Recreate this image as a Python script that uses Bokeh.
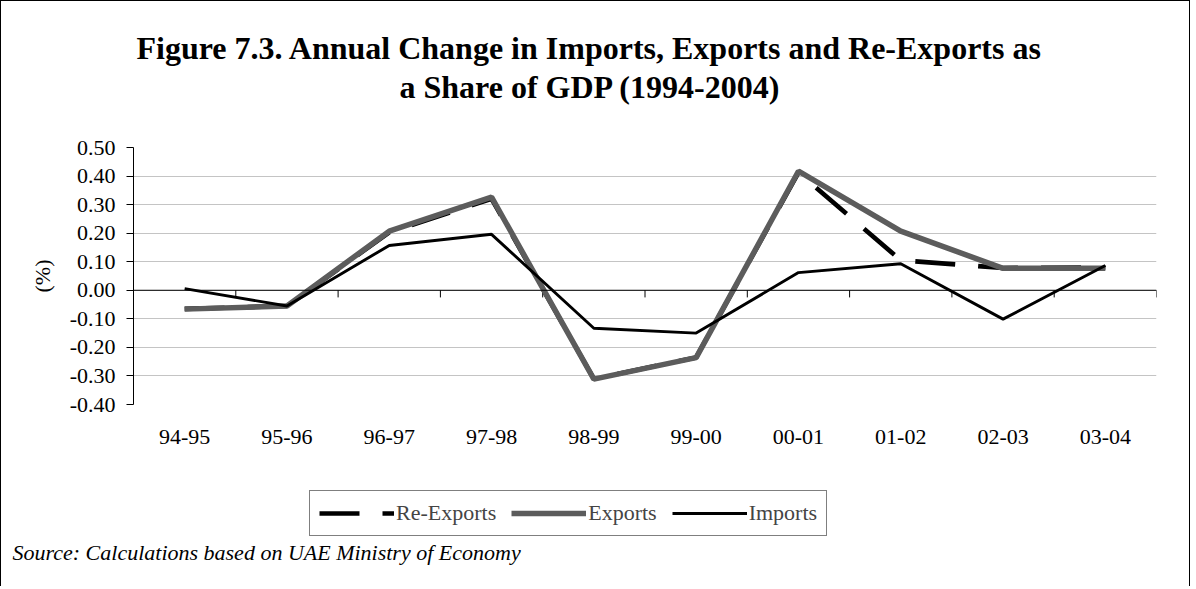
from bokeh.plotting import figure
from bokeh.layouts import column
from bokeh.models import (FactorRange, Range1d, FixedTicker, NumeralTickFormatter, Span,
                          Legend, LegendItem, Title)
from bokeh.embed import file_html
from bokeh.resources import INLINE

# ---------------- data ----------------
categories = ["94-95", "95-96", "96-97", "97-98", "98-99", "99-00", "00-01", "01-02", "02-03", "03-04"]
re_exports = [-0.065, -0.055, 0.203, 0.320, -0.310, -0.235, 0.412, 0.105, 0.078, 0.080]
exports = [-0.066, -0.055, 0.207, 0.326, -0.311, -0.236, 0.417, 0.207, 0.077, 0.077]
imports = [0.006, -0.055, 0.157, 0.196, -0.133, -0.150, 0.062, 0.093, -0.101, 0.087]
y_ticks = [-0.4, -0.3, -0.2, -0.1, 0.0, 0.1, 0.2, 0.3, 0.4, 0.5]
series_names = ["Re-Exports", "Exports", "Imports"]

title_lines = ["Figure 7.3. Annual Change in Imports, Exports and Re-Exports as",
               "a Share of GDP (1994-2004)"]
source_text = "Source: Calculations based on UAE Ministry of Economy"

SERIF = "Liberation Serif"
W, H_MAIN, H_FOOT = 1190, 470, 116
LEFT, RIGHT = 132, 35

# ---------------- main chart ----------------
p = figure(width=W, height=H_MAIN, output_backend="svg", toolbar_location=None,
           x_range=FactorRange(*categories), y_range=Range1d(-0.4, 0.5),
           min_border_left=LEFT, min_border_right=RIGHT, min_border_top=146,
           min_border_bottom=H_MAIN - 403)
p.styles = {"border-left": "1px solid black", "border-top": "1px solid black",
            "border-right": "1px solid black"}
p.background_fill_color = "white"
p.border_fill_color = "white"
p.outline_line_color = None

p.yaxis.ticker = FixedTicker(ticks=y_ticks)
p.yaxis.formatter = NumeralTickFormatter(format="0.00")
p.yaxis.axis_line_color = "black"
p.yaxis.major_tick_line_color = "black"
p.yaxis.major_tick_out = 7
p.yaxis.major_tick_in = 0
p.yaxis.minor_tick_line_color = None
p.yaxis.major_label_standoff = 11
p.yaxis.major_label_text_font = SERIF
p.yaxis.major_label_text_font_size = "22px"
p.yaxis.major_label_text_color = "black"
p.yaxis.axis_label = "(%)"
p.yaxis.axis_label_text_font = SERIF
p.yaxis.axis_label_text_font_size = "22px"
p.yaxis.axis_label_text_font_style = "normal"
p.yaxis.axis_label_text_color = "black"
p.yaxis.axis_label_standoff = 12

p.xaxis.axis_line_color = None
p.xaxis.major_tick_line_color = None
p.xaxis.major_tick_out = 0
p.xaxis.major_label_standoff = 25
p.xaxis.major_label_text_font = SERIF
p.xaxis.major_label_text_font_size = "22px"
p.xaxis.major_label_text_color = "black"

p.xgrid.grid_line_color = None
p.ygrid.grid_line_color = "#c4c4c4"
p.ygrid.grid_line_width = 1

# horizontal axis line at zero with ticks between categories
p.add_layout(Span(location=0, dimension="width", line_color="black", line_width=1))
tick_len = 0.025
bounds = [(c, -0.5) for c in categories] + [(categories[-1], 0.5)]
p.segment(x0=bounds, x1=bounds, y0=[0] * len(bounds), y1=[-tick_len] * len(bounds),
          line_color="black", line_width=1)

STYLE = {
    "Re-Exports": dict(line_color="black", line_width=4.6, line_dash="40 23"),
    "Exports": dict(line_color="#5c5c5c", line_width=5.5),
    "Imports": dict(line_color="black", line_width=2.9),
}
p.line(categories, re_exports, **STYLE["Re-Exports"])
p.line(categories, exports, **STYLE["Exports"])
p.line(categories, imports, **STYLE["Imports"])

# titles: spacer nearest the frame, then line 2, then line 1
p.add_layout(Title(text=" ", text_font_size="1px", standoff=40), "above")
p.add_layout(Title(text=title_lines[1], align="left", offset=266, vertical_align="bottom",
                   standoff=0, text_font=SERIF, text_font_size="32px",
                   text_font_style="bold", text_color="black"), "above")
p.add_layout(Title(text=title_lines[0], align="left", offset=3, vertical_align="bottom",
                   standoff=1, text_font=SERIF, text_font_size="32px",
                   text_font_style="bold", text_color="black"), "above")

# ---------------- footer: legend + source ----------------
f = figure(width=W, height=H_FOOT, output_backend="svg", toolbar_location=None,
           x_range=Range1d(0, 1), y_range=Range1d(0, 1),
           x_axis_location=None, y_axis_location=None,
           min_border_left=LEFT, min_border_right=RIGHT,
           min_border_top=0, min_border_bottom=50)
f.styles = {"border-left": "1px solid black", "border-right": "1px solid black"}
f.grid.visible = False
f.outline_line_color = None
f.background_fill_color = "white"
f.border_fill_color = "white"

nan = float("nan")
items = []
for name in series_names:
    r = f.line(x=[nan, nan], y=[nan, nan], **STYLE[name])
    items.append(LegendItem(label=name, renderers=[r]))

legend = Legend(items=items, orientation="horizontal", location=(176, 0),
                border_line_color="black", border_line_width=1,
                background_fill_color="white", background_fill_alpha=1,
                label_text_font=SERIF, label_text_font_size="22px",
                glyph_width=75, glyph_height=22, label_height=22,
                label_standoff=2, spacing=15, padding=9, margin=0)
f.add_layout(legend, "center")

f.add_layout(Title(text=source_text, align="left", offset=-121, vertical_align="top",
                   standoff=6, text_font=SERIF, text_font_size="22px",
                   text_font_style="italic", text_color="black"), "below")

layout = column(p, f, spacing=0)
open("out.html", "w").write(file_html(layout, INLINE))
